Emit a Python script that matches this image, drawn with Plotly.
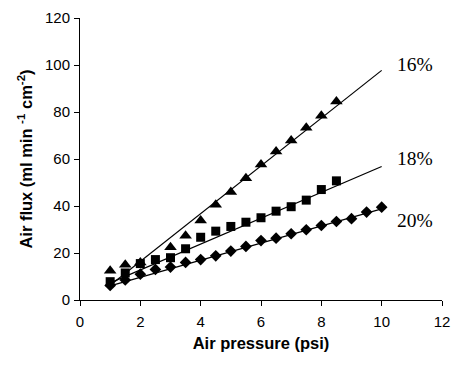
import plotly.graph_objects as go

# 16% series (triangles)
tri_x = [1, 1.5, 2, 3, 3.5, 4, 4.5, 5, 5.5, 6, 6.5, 7, 7.5, 8, 8.5]
tri_y = [12.5, 15.0, 16.0, 22.5, 27.3, 33.8, 40.5, 46.0, 51.8, 57.7, 63.2, 67.9, 73.3, 78.4, 84.5]

# 18% series (squares)
sq_x = [1, 1.5, 2, 2.5, 3, 3.5, 4, 4.5, 5, 5.5, 6, 6.5, 7, 7.5, 8, 8.5]
sq_y = [7.8, 11.5, 15.5, 17.2, 18.0, 21.8, 26.7, 29.3, 31.3, 33.1, 35.0, 37.8, 39.7, 42.5, 47.0, 50.7]

# 20% series (diamonds)
di_x = [1, 1.5, 2, 2.5, 3, 3.5, 4, 4.5, 5, 5.5, 6, 6.5, 7, 7.5, 8, 8.5, 9, 9.5, 10]
di_y = [6.2, 8.5, 11.0, 13.0, 14.0, 16.0, 17.2, 18.8, 20.8, 22.8, 25.3, 26.3, 28.2, 29.9,
        31.7, 33.4, 34.6, 37.4, 39.5]

# Linear fit lines (endpoints)
fit_x = [1, 10]
fit16 = [6.3, 97.7]
fit18 = [7.3, 56.8]
fit20 = [6.0, 38.8]

labels = ["16%", "18%", "20%"]
label_y = [100.4, 60.2, 33.8]
label_x = 11.1

x_ticks = [0, 2, 4, 6, 8, 10, 12]
y_ticks = [0, 20, 40, 60, 80, 100, 120]

fig = go.Figure()
for fy in [fit16, fit18, fit20]:
    fig.add_trace(go.Scatter(x=fit_x, y=fy, mode="lines",
                             line=dict(color="black", width=1.2), showlegend=False,
                             hoverinfo="skip"))

fig.add_trace(go.Scatter(x=tri_x, y=tri_y, mode="markers",
                         marker=dict(symbol="triangle-up", size=11, color="black"),
                         showlegend=False))
fig.add_trace(go.Scatter(x=sq_x, y=sq_y, mode="markers",
                         marker=dict(symbol="square", size=9, color="black"),
                         showlegend=False))
fig.add_trace(go.Scatter(x=di_x, y=di_y, mode="markers",
                         marker=dict(symbol="diamond", size=9, color="black"),
                         showlegend=False))

for t, ly in zip(labels, label_y):
    fig.add_annotation(x=label_x, y=ly, text=t, showarrow=False,
                       font=dict(family="Liberation Serif, Times New Roman, serif",
                                 size=19.5, color="black"))

axis_font = dict(family="Liberation Sans, Arial, sans-serif", size=15, color="black")
title_font = dict(family="Liberation Sans, Arial, sans-serif", size=16.5, color="black")
fig.update_layout(
    width=459, height=365,
    margin=dict(l=80, r=9, t=18, b=65),
    plot_bgcolor="white", paper_bgcolor="white",
    font=axis_font,
    xaxis=dict(range=[0, 12], tickvals=x_ticks, showgrid=False, zeroline=False,
               showline=True, linecolor="black", linewidth=1,
               ticks="outside", ticklen=5, tickcolor="black",
               tickfont=axis_font, ticklabelstandoff=3,
               title=dict(text="<b>Air pressure (psi)</b>", font=title_font, standoff=8)),
    yaxis=dict(range=[0, 120], tickvals=y_ticks, showgrid=False, zeroline=False,
               showline=True, linecolor="black", linewidth=1,
               ticks="outside", ticklen=5, tickcolor="black",
               tickfont=axis_font, ticklabelstandoff=1,
               title=dict(text="<b>Air flux (ml min <sup>-1</sup> cm<sup>-2</sup>)</b>",
                          font=title_font, standoff=8)),
)
fig.update_traces(cliponaxis=False)
fig.write_html("out.html")
